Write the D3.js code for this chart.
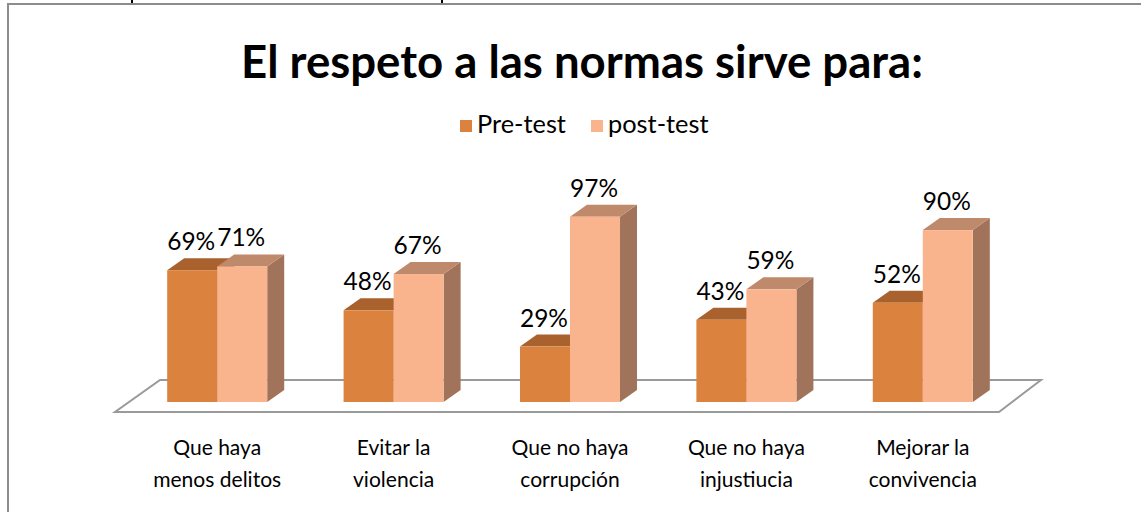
<!DOCTYPE html>
<html>
<head>
<meta charset="utf-8">
<script src="https://d3js.org/d3.v7.min.js"></script>
<style>
  body { margin: 0; background: #fff; }
  text { font-family: Lato, "Open Sans", sans-serif; fill: #000; }
</style>
</head>
<body>
<script>
// data
var categories = [
  ["Que haya", "menos delitos"],
  ["Evitar la", "violencia"],
  ["Que no haya", "corrupción"],
  ["Que no haya", "injustiucia"],
  ["Mejorar la", "convivencia"]
];
var seriesNames = ["Pre-test", "post-test"];
var preTest = [69, 48, 29, 43, 52];
var postTest = [71, 67, 97, 59, 90];

var width = 1141, height = 512;
var depthX = 17, depthY = -12;

var colors = {
  "Pre-test": { front: "#db823e", top: "#a9622d", side: "#9c5a2a" },
  "post-test": { front: "#f9b48e", top: "#bf896c", side: "#a0735a" }
};

var svg = d3.select("body").append("svg")
  .attr("width", width)
  .attr("height", height);

// frame of the pasted chart
svg.append("rect")
  .attr("x", 8).attr("y", 4)
  .attr("width", width + 20).attr("height", height + 20)
  .style("fill", "#fff").style("stroke", "#8c8c8c").style("stroke-width", 2);

// bits of the text above the picture
[132, 442].forEach(function (x) {
  svg.append("line").attr("x1", x).attr("x2", x).attr("y1", 0).attr("y2", 3)
    .style("stroke", "#000").style("stroke-width", 2);
});

// helper: shrink/grow font so a text hits a target width
function fit(sel, target) {
  var fs = parseFloat(sel.attr("font-size"));
  var w = sel.node().getComputedTextLength();
  sel.attr("font-size", (fs * target / w).toFixed(2) + "px");
  return fs * target / w;
}

// title
var title = svg.append("text")
  .attr("x", 582).attr("y", 78)
  .attr("text-anchor", "middle")
  .attr("font-size", "40px")
  .attr("font-weight", "bold")
  .text("El respeto a las normas sirve para:");
fit(title, 682);

// scales
var x0 = d3.scaleBand()
  .domain(d3.range(categories.length))
  .range([129, 1011])
  .paddingInner(0.433)
  .paddingOuter(0.2165);
var x1 = d3.scaleBand()
  .domain(seriesNames)
  .range([0, x0.bandwidth()]);
var y = d3.scaleLinear().domain([0, 100]).range([402, 211]);

// floor
var fl = x0.range();
svg.append("path")
  .attr("d", "M" + (fl[0] + 31) + ",380 L" + (fl[1] + 30) + ",380 L" + (fl[1] - 12) + ",412 L" + (fl[0] - 14) + ",412 Z")
  .style("fill", "#fff")
  .style("stroke", "#9a9a9a")
  .style("stroke-width", 2);

var data = [];
categories.forEach(function (c, i) {
  data.push({ cat: i, s: "Pre-test", v: preTest[i] });
  data.push({ cat: i, s: "post-test", v: postTest[i] });
});

var g = svg.append("g");
data.forEach(function (d) {
  var xl = x0(d.cat) + x1(d.s), xr = xl + x1.bandwidth();
  var yt = y(d.v), yb = y(0);
  var c = colors[d.s];
  // side
  g.append("path")
    .attr("d", "M" + xr + "," + yt + " L" + (xr + depthX) + "," + (yt + depthY) +
      " L" + (xr + depthX) + "," + (yb + depthY) + " L" + xr + "," + yb + " Z")
    .style("fill", c.side);
  // top
  g.append("path")
    .attr("d", "M" + xl + "," + yt + " L" + (xl + depthX) + "," + (yt + depthY) +
      " L" + (xr + depthX) + "," + (yt + depthY) + " L" + xr + "," + yt + " Z")
    .style("fill", c.top);
  // front
  g.append("rect")
    .attr("x", xl).attr("y", yt)
    .attr("width", xr - xl).attr("height", yb - yt)
    .style("fill", c.front);
});

// value labels
var labels = svg.append("g").selectAll("text").data(data).enter().append("text")
  .attr("x", function (d) { return x0(d.cat) + x1(d.s) + x1.bandwidth() / 2 - 1; })
  .attr("y", function (d) { return y(d.v) + depthY - 8; })
  .attr("text-anchor", "middle")
  .attr("font-size", "22px")
  .text(function (d) { return d.v + "%"; });
var lfs = fit(d3.select(labels.nodes()[0]), 48);
labels.attr("font-size", lfs.toFixed(2) + "px");

// category labels
var cat = svg.append("g").selectAll("text").data(categories).enter().append("text")
  .attr("text-anchor", "middle")
  .attr("font-size", "21px");
cat.append("tspan")
  .attr("x", function (d, i) { return x0(i) + x0.bandwidth() / 2; })
  .attr("y", 455)
  .text(function (d) { return d[0]; });
cat.append("tspan")
  .attr("x", function (d, i) { return x0(i) + x0.bandwidth() / 2; })
  .attr("y", 487)
  .text(function (d) { return d[1]; });
var probe = svg.append("text").attr("font-size", "21px").text(categories[0][1]);
var cfs = fit(probe, 128);
probe.remove();
cat.attr("font-size", cfs.toFixed(2) + "px");

// legend
var legendX = [460, 591];
var legend = svg.append("g").selectAll("g").data(seriesNames).enter().append("g")
  .attr("transform", function (d, i) { return "translate(" + legendX[i] + ",120)"; });
legend.append("rect")
  .attr("width", 12).attr("height", 12)
  .style("fill", function (d) { return colors[d].front; });
var lt = legend.append("text")
  .attr("x", 17).attr("y", 13)
  .attr("font-size", "20px")
  .text(function (d) { return d; });
var gfs = fit(d3.select(lt.nodes()[0]), 89);
lt.attr("font-size", gfs.toFixed(2) + "px");
</script>
</body>
</html>
